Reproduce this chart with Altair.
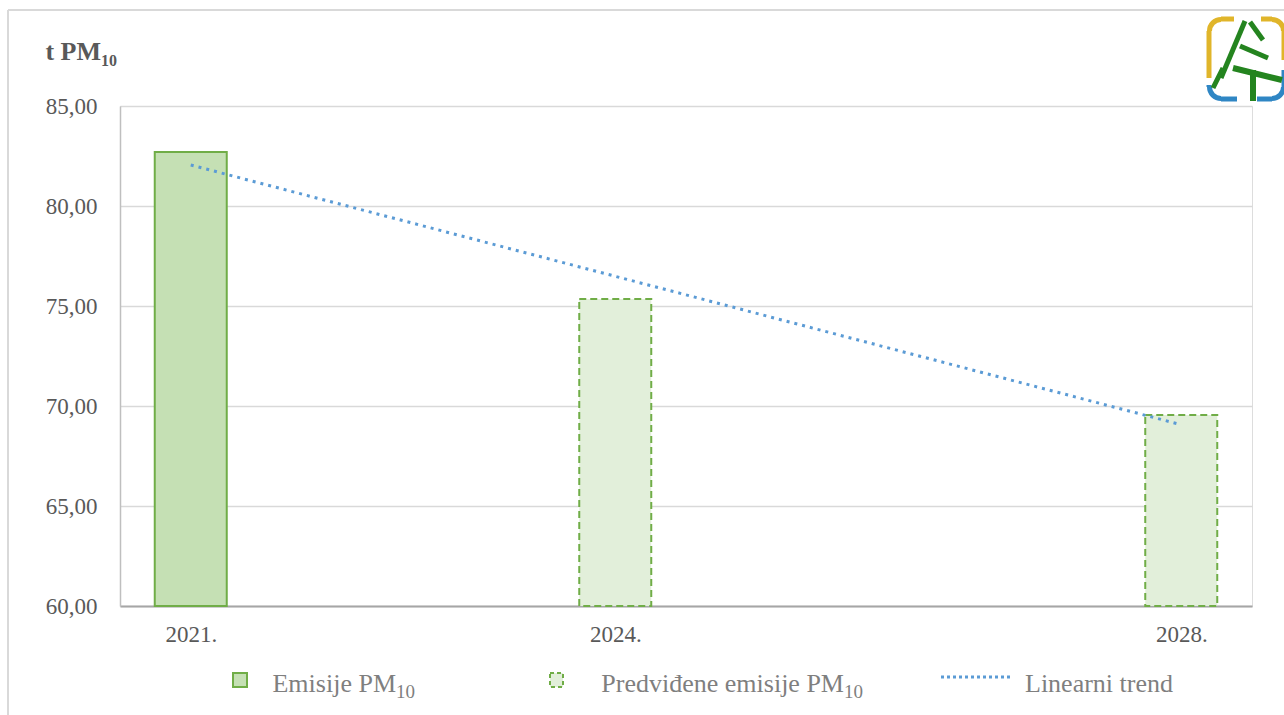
import altair as alt
import pandas as pd

# ---- chart values -------------------------------------------------------
years = [2021, 2024, 2028]
emissions = [82.7, 75.35, 69.55]
kinds = ["Emisije", "Predviđene", "Predviđene"]

y_ticks = [60, 65, 70, 75, 80, 85]
legend_labels = ["Emisije PM", "Predviđene emisije PM", "Linearni trend"]
subscript = "10"
axis_title = "t PM"

# ---- styling ------------------------------------------------------------
FONT = "Times New Roman, Liberation Serif, serif"
GREEN = "#70AD47"
FILL_ACTUAL = "#C5E0B4"
FILL_FORECAST = "#E2EFDA"
TREND = "#5B9BD5"
LABEL = "#595959"
LEGEND_TXT = "#7F7F7F"
GRID = "#D9D9D9"

W, H = 1132, 500          # plot area
LEFT, TOP = 120, 106      # plot origin inside the page

df = pd.DataFrame({"year": years, "value": emissions, "kind": kinds})
one = pd.DataFrame({"k": [0]})

x_scale = alt.Scale(domain=[2020.5, 2028.5], nice=False, zero=False, padding=0)
y_scale = alt.Scale(domain=[60, 85], nice=False, zero=False)

x_axis = alt.Axis(
    values=years, labelExpr="datum.value + '.'", title=None,
    ticks=False, tickSize=0, grid=False,
    domainColor="#A6A6A6", domainWidth=2,
    labelFont=FONT, labelFontSize=23, labelColor=LABEL, labelPadding=17,
)
y_axis = alt.Axis(
    values=y_ticks, labelExpr="replace(format(datum.value, '.2f'), '.', ',')",
    title=None, ticks=False, tickSize=0,
    grid=True, gridColor=GRID, gridWidth=1.5,
    domainColor="#BFBFBF", domainWidth=1.5,
    labelFont=FONT, labelFontSize=23, labelColor=LABEL, labelPadding=23,
)

base = alt.Chart(df)

actual = base.transform_filter(alt.datum.kind == "Emisije").mark_bar(
    size=72, fill=FILL_ACTUAL, stroke=GREEN, strokeWidth=2
).encode(
    x=alt.X("year:Q", scale=x_scale, axis=x_axis),
    y=alt.Y("value:Q", scale=y_scale, axis=y_axis),
    y2=alt.datum(60),
)

forecast = base.transform_filter(alt.datum.kind == "Predviđene").mark_bar(
    size=72, fill=FILL_FORECAST, stroke=GREEN, strokeWidth=2, strokeDash=[7, 4]
).encode(
    x=alt.X("year:Q", scale=x_scale),
    y=alt.Y("value:Q", scale=y_scale),
    y2=alt.datum(60),
)

trend = base.transform_regression(
    "year", "value", method="linear", extent=[2021, 2028]
).mark_line(
    color=TREND, strokeWidth=3, strokeDash=[3, 5]
).encode(
    x=alt.X("year:Q", scale=x_scale),
    y=alt.Y("value:Q", scale=y_scale),
)


def text(s, x, y, size, color, align="left", weight="normal"):
    return alt.Chart(one).mark_text(
        text=s, font=FONT, fontSize=size, color=color, align=align,
        baseline="alphabetic", fontWeight=weight,
    ).encode(x=alt.value(x - LEFT), y=alt.value(y - TOP))


def rule(x1, y1, x2, y2, color, width, dash=None, cap="butt"):
    kw = dict(color=color, strokeWidth=width, strokeCap=cap)
    if dash:
        kw["strokeDash"] = dash
    return alt.Chart(one).mark_rule(**kw).encode(
        x=alt.value(x1 - LEFT), x2=alt.value(x2 - LEFT),
        y=alt.value(y1 - TOP), y2=alt.value(y2 - TOP),
    )


def corner(cx, cy, t0, t1, color):
    return alt.Chart(one).mark_arc(
        radius=9, radius2=14, theta=t0, theta2=t1, color=color
    ).encode(x=alt.value(cx - LEFT), y=alt.value(cy - TOP))


# axis title with subscript
title = [
    text(axis_title, 101, 60, 26, LABEL, align="right", weight="bold"),
    text(subscript, 101, 66, 16, LABEL, weight="bold"),
]

# legend
legend = [
    alt.Chart(one).mark_rect(fill=FILL_ACTUAL, stroke=GREEN, strokeWidth=2).encode(
        x=alt.value(233 - LEFT), x2=alt.value(247 - LEFT),
        y=alt.value(673 - TOP), y2=alt.value(687 - TOP)),
    text(legend_labels[0], 396, 692, 26, LEGEND_TXT, align="right"),
    text(subscript, 396, 698, 19, LEGEND_TXT),
    alt.Chart(one).mark_rect(fill=FILL_FORECAST, stroke=GREEN, strokeWidth=2,
                             strokeDash=[4, 3]).encode(
        x=alt.value(550 - LEFT), x2=alt.value(563 - LEFT),
        y=alt.value(673 - TOP), y2=alt.value(687 - TOP)),
    text(legend_labels[1], 844, 692, 26, LEGEND_TXT, align="right"),
    text(subscript, 844, 698, 19, LEGEND_TXT),
    rule(941, 677, 1010, 677, TREND, 3, dash=[3, 3]),
    text(legend_labels[2], 1025, 692, 26, LEGEND_TXT),
]

# outer frame
frame = [
    rule(8, 10, 8, 715, "#D9D9D9", 2),
    rule(8, 10, 1284, 10, "#D9D9D9", 2),
]

# logo
YEL, BLU, GRN = "#E0B52A", "#2F86C4", "#24841F"
logo = [
    rule(1209, 31, 1209, 78, YEL, 5),
    corner(1221, 31, 4.712, 6.283, YEL),
    rule(1221, 19, 1234, 19, YEL, 5),
    rule(1261, 19, 1272, 19, YEL, 5),
    corner(1272, 31, 0, 1.571, YEL),
    rule(1284, 31, 1284, 60, YEL, 5),
    rule(1209, 85, 1209, 87, BLU, 5),
    corner(1221, 87, 3.1416, 4.712, BLU),
    rule(1221, 99, 1237, 99, BLU, 5),
    rule(1257, 99, 1272, 99, BLU, 5),
    corner(1272, 87, 1.571, 3.1416, BLU),
    rule(1284, 70, 1284, 87, BLU, 5),
    rule(1245, 21, 1221, 78, GRN, 5),
    rule(1250, 22, 1263, 40, GRN, 5),
    rule(1240, 46, 1268, 58, GRN, 5),
    rule(1233, 68, 1282, 80, GRN, 6),
    rule(1253, 70, 1253, 101, GRN, 6),
    rule(1223, 68, 1213, 88, GRN, 5),
]

chart = alt.layer(
    actual, forecast, trend, *title, *legend, *frame, *logo
).properties(
    width=W, height=H,
    padding={"left": LEFT, "top": TOP, "right": 1284 - LEFT - W, "bottom": 715 - TOP - H},
    autosize=alt.AutoSizeParams(type="none"),
).configure_view(stroke=None).configure(background="white")

chart.save("out.html", embed_options={"renderer": "svg", "actions": False})
